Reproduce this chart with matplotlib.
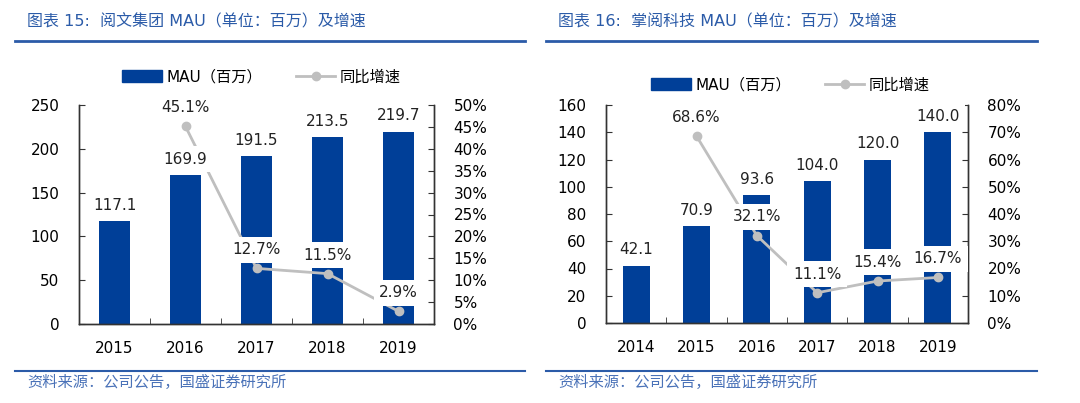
import numpy as np
import matplotlib
matplotlib.use('Agg')
import matplotlib.pyplot as plt
from matplotlib.lines import Line2D

plt.rcParams['font.family'] = ['DejaVu Sans', 'Noto Sans CJK SC']

# 阅文集团
yw_years = ['2015', '2016', '2017', '2018', '2019']
yw_mau = [117.1, 169.9, 191.5, 213.5, 219.7]
yw_growth = [np.nan, 45.1, 12.7, 11.5, 2.9]

# 掌阅科技
zy_years = ['2014', '2015', '2016', '2017', '2018', '2019']
zy_mau = [42.1, 70.9, 93.6, 104.0, 120.0, 140.0]
zy_growth = [np.nan, 68.6, 32.1, 11.1, 15.4, 16.7]

BLUE = '#003F98'
GREY = '#BFBFBF'
HEAD = '#2B5BA8'
W, H = 1080, 403

fig = plt.figure(figsize=(W / 100, H / 100), dpi=100)


def px(x0, y0, x1, y1):
    return [x0 / W, 1 - y1 / H, (x1 - x0) / W, (y1 - y0) / H]


def panel(rect, years, mau, growth, ymax, ystep, pmax, pstep, bw, title,
          legy, legx, lx0, lx1):
    ax = fig.add_axes(px(*rect))
    ax2 = ax.twinx()
    x = np.arange(len(years))
    ax.bar(x, mau, width=bw, color=BLUE, zorder=2)
    ax2.plot(x, np.array(growth) / 100, color=GREY, lw=2, marker='o', ms=6, zorder=3)
    ax.set_xlim(-0.5, len(years) - 0.5)
    ax.set_ylim(0, ymax)
    ax.set_yticks(np.arange(0, ymax + 1, ystep))
    ax2.set_ylim(0, pmax / 100)
    ax2.set_yticks(np.arange(0, pmax + 1, pstep) / 100)
    ax2.set_yticklabels(['%d%%' % v for v in np.arange(0, pmax + 1, pstep)])
    ax.set_xticks(x)
    ax.set_xticklabels(years)
    ax.set_xticks(np.arange(-0.5, len(years), 1), minor=True)
    ax.tick_params(axis='x', which='major', length=0, pad=12, labelsize=11)
    ax.tick_params(axis='x', which='minor', direction='in', length=4, color='#333333')
    ax.tick_params(axis='y', direction='in', length=4, pad=14, labelsize=11, color='#333333')
    ax2.tick_params(axis='y', direction='in', length=4, pad=14, labelsize=11, color='#333333')
    for a in (ax, ax2):
        a.spines['top'].set_visible(False)
        for s in ('left', 'right', 'bottom'):
            a.spines[s].set_color('#333333')
            a.spines[s].set_linewidth(1)
    ax2.patch.set_visible(False)

    box = dict(facecolor='white', edgecolor='none', pad=4)
    for i, v in enumerate(mau):
        ax2.annotate('%.1f' % v, (i, v), xycoords=ax.transData, xytext=(0, 6),
                     textcoords='offset points', ha='center', va='bottom',
                     fontsize=11, color='#222222', bbox=box, zorder=5)
    for i, g in enumerate(growth):
        if np.isnan(g):
            continue
        ax2.annotate('%.1f%%' % g, (i, g / 100), xytext=(0, 8),
                     textcoords='offset points', ha='center', va='bottom',
                     fontsize=11, color='#222222', bbox=box, zorder=5)

    handles = [plt.Rectangle((0, 0), 1, 1, color=BLUE),
               Line2D([], [], color=GREY, lw=2, marker='o', ms=6)]
    fig.legend(handles, ['MAU（百万）', '同比增速'], loc='center left',
               bbox_to_anchor=(legx / W, 1 - legy / H), ncol=2, frameon=False,
               fontsize=11, handlelength=2.6, handleheight=0.8, columnspacing=2.2,
               handletextpad=0.3, borderaxespad=0, borderpad=0)

    fig.text((lx0 + 12) / W, 1 - 22 / H, title, fontsize=11.5, color=HEAD,
             va='center', ha='left')
    fig.add_artist(Line2D([lx0 / W, lx1 / W], [1 - 41 / H] * 2, color=HEAD, lw=2))
    fig.add_artist(Line2D([lx0 / W, lx1 / W], [1 - 371 / H] * 2, color=HEAD, lw=1.5))
    fig.text((lx0 + 12) / W, 1 - 382 / H, '资料来源：公司公告，国盛证券研究所', fontsize=11,
             color='#4A72B8', va='center', ha='left')


panel((79, 105, 434, 324), yw_years, yw_mau, yw_growth, 250, 50, 50, 5, 0.44,
      '图表 15:  阅文集团 MAU（单位：百万）及增速', 77, 122, 15, 525)
panel((606, 105, 968, 323), zy_years, zy_mau, zy_growth, 160, 20, 80, 10, 0.45,
      '图表 16:  掌阅科技 MAU（单位：百万）及增速', 85, 651, 546, 1037)

fig.savefig('out.png', dpi=100)
